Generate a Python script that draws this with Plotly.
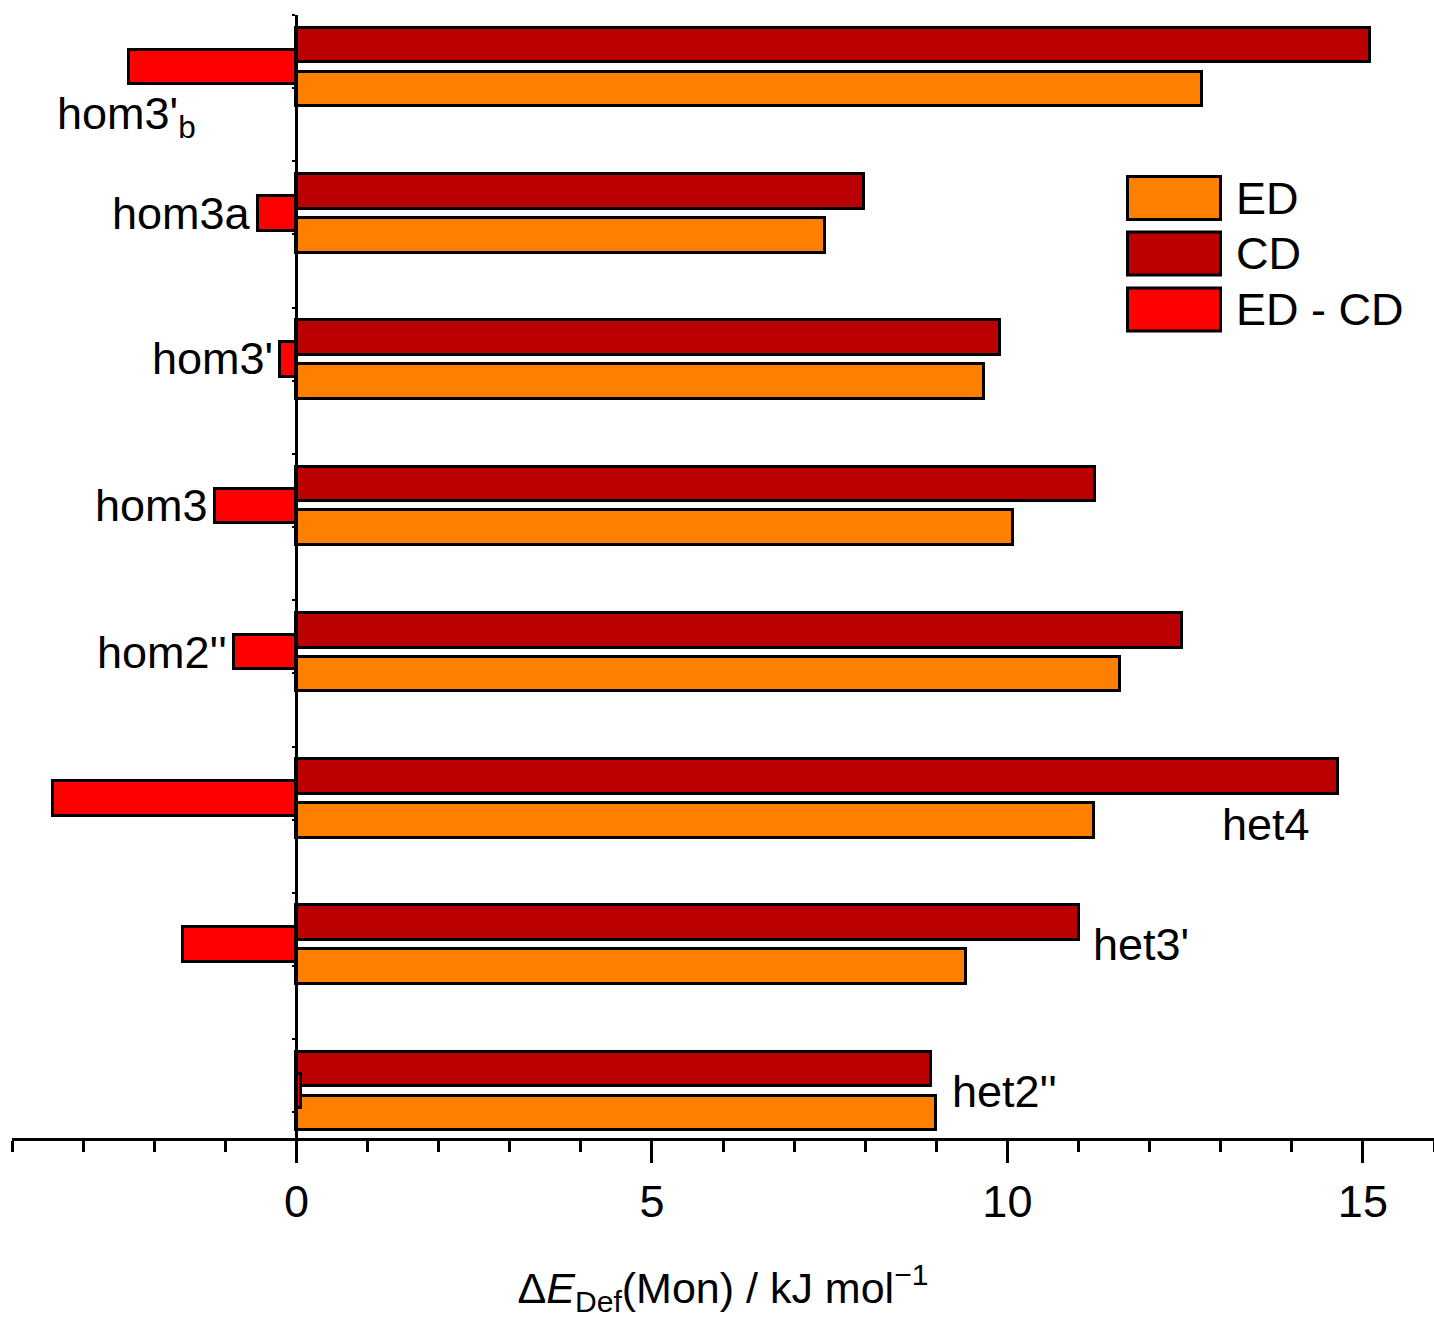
import plotly.graph_objects as go

# Systems, listed bottom to top
systems = ["het2''", "het3'", "het4", "hom2''", "hom3", "hom3'", "hom3a", "hom3'<sub>b</sub>"]

# Monomer deformation energies / kJ mol^-1
ed_values = [9.00, 9.42, 11.22, 11.58, 10.08, 9.67, 7.44, 12.74]
cd_values = [8.93, 11.01, 14.65, 12.46, 11.23, 9.90, 7.98, 15.10]
diff_values = [e - c for e, c in zip(ed_values, cd_values)]

series_names = ["ED", "CD", "ED - CD"]
series_colors = ["#FF8000", "#BA0000", "#FF0000"]

# Figure geometry (pixels)
W, H = 1434, 1318
ML, MR, MT, MB = 12, 0, 15, 180
PW, PH = W - ML - MR, H - MT - MB

FONT = "Arial, 'Liberation Sans', Helvetica, sans-serif"
FS = 45
BAR_W = 0.237
SHIFT = 0.15


def px(xp):
    return (xp - ML) / PW


def py(yp):
    return (H - MB - yp) / PH


idx = list(range(len(systems)))
fig = go.Figure()

bar_line = dict(color="black", width=3)
fig.add_trace(go.Bar(
    x=ed_values, y=[i - SHIFT for i in idx], orientation="h", width=BAR_W,
    name=series_names[0], marker=dict(color=series_colors[0], line=bar_line)))
fig.add_trace(go.Bar(
    x=cd_values, y=[i + SHIFT for i in idx], orientation="h", width=BAR_W,
    name=series_names[1], marker=dict(color=series_colors[1], line=bar_line)))
fig.add_trace(go.Bar(
    x=diff_values, y=idx, orientation="h", width=BAR_W,
    name=series_names[2], marker=dict(color=series_colors[2], line=bar_line)))

# Category labels: (x in data units, y in data units, anchor)
label_pos = [
    (9.19, 0.00, "left"),
    (11.18, 1.00, "left"),
    (12.99, 1.825, "left"),
    (None, 3.00, "right"),
    (None, 4.00, "right"),
    (None, 5.01, "right"),
    (None, 6.00, "right"),
    (-3.40, 6.66, "left"),
]
annotations = []
for i, (name, (lx, ly, anchor)) in enumerate(zip(systems, label_pos)):
    shift = 0
    if lx is None:
        lx = min(diff_values[i], 0.0)
        shift = -5
    annotations.append(dict(
        x=lx, y=ly, xref="x", yref="y", text=name, showarrow=False,
        xanchor=anchor, yanchor="middle", xshift=shift,
        font=dict(family=FONT, size=FS, color="black")))

# Legend drawn as framed colour keys with labels
shapes = []
key_centers = [198, 253.5, 309.5]
for name, color, yc in zip(series_names, series_colors, key_centers):
    shapes.append(dict(
        type="rect", xref="paper", yref="paper",
        x0=px(1127.5), x1=px(1220.5), y0=py(yc + 21.5), y1=py(yc - 21.5),
        fillcolor=color, line=dict(color="black", width=3)))
    annotations.append(dict(
        x=px(1234), y=py(yc), xref="paper", yref="paper", text=name,
        showarrow=False, xanchor="left", yanchor="middle",
        font=dict(family=FONT, size=FS, color="black")))

fig.update_layout(
    width=W, height=H,
    margin=dict(l=ML, r=MR, t=MT, b=MB),
    paper_bgcolor="white", plot_bgcolor="white",
    barmode="overlay", showlegend=False, bargap=0,
    font=dict(family=FONT, size=FS, color="black"),
    shapes=shapes, annotations=annotations,
    xaxis=dict(
        range=[-4, 16], tick0=0, dtick=5,
        showline=True, linecolor="black", linewidth=3,
        ticks="outside", ticklen=22, tickwidth=3, tickcolor="black",
        minor=dict(dtick=1, ticks="outside", ticklen=11, tickwidth=3, tickcolor="black"),
        showgrid=False, zeroline=False,
        tickfont=dict(family=FONT, size=FS, color="black"),
        ticklabelstandoff=0,
        title=dict(
            text="Δ<i>E</i><sub>Def</sub>(Mon) / kJ mol<sup>−1</sup>",
            font=dict(family=FONT, size=43, color="black"), standoff=47),
    ),
    yaxis=dict(
        range=[-0.321, 7.355], anchor="free", position=0.2,
        showline=True, linecolor="black", linewidth=3,
        ticks="outside", ticklen=3, tickwidth=2, tickcolor="black",
        tick0=0.355, dtick=0.5, showticklabels=False,
        showgrid=False, zeroline=False,
    ),
)

fig.write_html("out.html")
